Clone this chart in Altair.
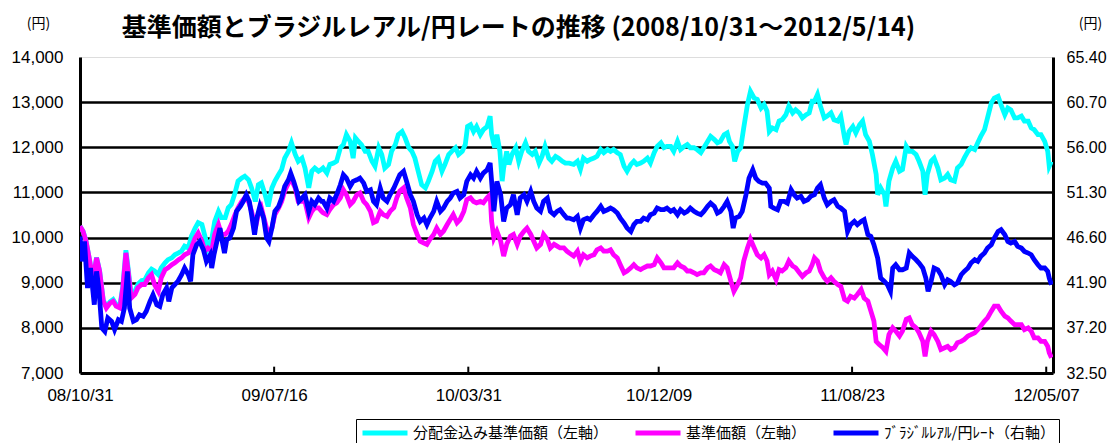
import altair as alt
import pandas as pd

START = "2008-10-31"
SERIES = ["分配金込み基準価額（左軸）", "基準価額（左軸）", "ﾌﾞﾗｼﾞﾙﾚｱﾙ/円ﾚｰﾄ（右軸）"]
COLORS = ["#00FFFF", "#FF00FF", "#0000FF"]
TICK_DATES = ["2008-10-31", "2009-07-16", "2010-03-31", "2010-12-09", "2011-08-23", "2012-05-07"]
LEFT_TICKS = [7000, 8000, 9000, 10000, 11000, 12000, 13000, 14000]
RIGHT_TICKS = [32.5, 37.2, 41.9, 46.6, 51.3, 56.0, 60.7, 65.4]

# (days since 2008-10-31, value)
nav_dist = [
    (0,10250),(4,10140),(8,9920),(13,9480),(17,9030),(22,9560),(26,9270),(31,8610),(35,8470),(40,8580),
    (44,8630),(48,8520),(53,8490),(57,8940),(61,9720),(64,9320),(68,8730),(73,8810),(77,8970),(82,9050),
    (86,9060),(91,9220),(95,9300),(99,9260),(104,9180),(108,9330),(113,9440),(117,9510),(122,9550),(126,9620),
    (131,9660),(135,9700),(139,9810),(144,9770),(148,10030),(153,10210),(157,10330),(162,10290),(166,10030),(170,9770),
    (175,9960),(179,10360),(184,10580),(188,10440),(193,10440),(197,10660),(201,10730),(206,10990),(210,11250),(215,11320),
    (219,11360),(224,11280),(228,11100),(233,10800),(237,11170),(241,11210),(246,10950),(250,10690),(255,11100),(259,11250),
    (264,11400),(268,11510),(272,11760),(277,11910),(281,12100),(286,11840),(290,11690),(295,11760),(299,11540),(304,11100),
    (308,11470),(312,11540),(317,11470),(321,11510),
    (323,11540),(328,11430),(332,11620),(337,11650),(341,11690),(346,11990),(350,12060),(354,12280),(359,12130),(363,11760),
    (366,12210),(370,12130),(374,12060),(379,11910),(383,11910),(388,11690),(392,11580),(397,11990),(401,11840),(405,11540),
    (410,11620),(414,11910),(419,12060),(423,12280),(428,12350),(432,12210),(437,11990),(441,11910),(445,11760),(450,11430),
    (454,11170),(459,11100),(463,11250),(468,11470),(472,11690),(476,11760),(481,11470),(485,11620),(490,11840),(494,11910),
    (499,11990),(503,11840),(508,11910),(512,12060),(515,12460),(519,12500),(523,12350),(527,12460),(532,12280),(536,12390),
    (541,12460),(545,12690),(547,12280),(551,11990),(554,12280),(558,11910),(561,11250),(563,11540),(567,11910),(570,11620),
    (574,11840),(579,11990),(583,11690),(587,11910),(592,12100),(596,11910),(601,11840),(605,11910),(610,11650),(614,11800),
    (618,12020),(623,11760),(627,11690),(632,11800),(636,11760),(641,11690),(645,11650),
    (650,11650),(656,11620),(661,11690),(665,11510),(669,11760),(674,11690),(678,11730),(683,11760),(687,11800),(692,11950),
    (696,11880),(701,11950),(705,11910),(709,11950),(714,11880),(718,11840),(723,11580),(727,11470),(732,11620),(736,11690),
    (740,11620),(745,11650),(749,11690),(754,11760),(758,11650),(763,11880),(767,12020),(772,12100),(776,11990),(780,12020),
    (785,12020),(789,11910),(794,12130),(798,11950),(803,12020),(807,12060),(811,11990),(816,11990),(820,11950),(825,11880),
    (829,11990),(834,12130),(838,12240),(843,12170),(847,12100),(851,12130),(856,12280),(860,12320),(863,12130),(867,12020),
    (870,11690),(874,11910),(878,11990),(882,12430),(887,12950),(891,13240),(896,13090),(900,13060),(905,12870),(909,12950),
    (913,12800),(916,12350),(920,12430),(925,12390),(929,12580),(933,12610),(938,12720),(942,12910),(947,12760),(951,12830),
    (956,12760),(960,12650),(965,12720),(969,12760),(973,13020),
    (976,13020),(980,13170),(984,12910),(989,12650),(993,12690),(998,12760),(1002,12610),(1007,12580),(1011,12690),(1016,12210),
    (1018,12060),(1022,12350),(1027,12460),(1031,12320),(1036,12500),(1040,12580),(1044,12280),(1049,12130),(1053,11840),(1058,11400),
    (1060,10950),(1064,11100),(1069,10950),(1071,10690),(1075,11250),(1080,11540),(1084,11690),(1089,11470),(1093,11510),(1098,12020),
    (1102,11910),(1106,11910),(1111,11840),(1115,11690),(1120,11470),(1123,10950),(1126,11400),(1131,11690),(1135,11760),(1140,11540),
    (1144,11280),(1149,11320),(1153,11400),(1157,11280),(1162,11250),(1166,11540),(1171,11620),(1175,11760),(1180,11910),(1184,11990),
    (1189,11950),(1193,12100),(1197,12240),(1202,12390),(1206,12650),(1211,12980),(1215,13090),(1220,13130),(1224,12940),(1229,12720),
    (1233,12870),(1237,12830),(1242,12650),(1246,12650),(1251,12690),(1255,12580),(1260,12580),(1264,12430),(1268,12390),(1273,12280),
    (1277,12280),(1282,12130),(1286,11910),(1288,11580),(1291,11690),
]

nav = [
    (0,10250),(4,10140),(8,9920),(13,9480),(17,9030),(22,9550),(26,9260),(31,8590),(35,8440),(40,8550),
    (44,8590),(48,8480),(53,8440),(57,8890),(61,9660),(64,9260),(68,8660),(73,8740),(77,8890),(82,8960),
    (86,8960),(91,9110),(95,9180),(99,8960),(104,8810),(108,9110),(113,9290),(117,9330),(122,9400),(126,9440),
    (131,9510),(135,9550),(139,9620),(144,9660),(148,9770),(153,9990),(157,10100),(162,9920),(166,9700),(170,9770),
    (175,9700),(179,10070),(184,10290),(188,10070),(193,10070),(197,10140),(201,10290),(206,10510),(210,10660),(215,10800),
    (219,10880),(224,10800),(228,10580),(233,10210),(237,10510),(241,10660),(246,10330),(250,10070),(255,10210),(259,10510),
    (264,10660),(268,10800),(272,11030),(277,11210),(281,11280),(286,11100),(290,10800),(295,10800),(299,10800),(304,10440),
    (308,10580),(312,10660),(317,10660),(321,10580),
    (323,10550),(328,10510),(332,10620),(337,10730),(341,10770),(346,10880),(350,11060),(354,10950),(359,10730),(363,10800),
    (368,10950),(372,10990),(377,10800),(381,10730),(386,10580),(390,10330),(394,10360),(399,10580),(403,10510),(408,10470),
    (412,10580),(417,10660),(421,10880),(425,11030),(430,11100),(434,10880),(439,10660),(443,10290),(448,10070),(452,9920),
    (457,9880),(461,9850),(465,9960),(470,10070),(474,10210),(479,10070),(483,10140),(488,10290),(492,10400),(496,10510),
    (501,10330),(505,10400),(510,10580),(514,10840),(519,10880),(523,10800),(527,10770),(532,10800),(536,10770),(541,10880),
    (545,10950),(547,10360),(550,9990),(554,10140),(559,9920),(563,9590),(567,9850),(572,10030),(576,10070),(581,9850),
    (585,10030),(590,10140),(594,10210),(599,10070),(603,9920),(607,9770),(612,9850),(616,10070),(621,9960),(625,9770),
    (630,9850),(634,9810),(638,9770),(643,9770),(647,9700),
    (650,9660),(656,9590),(661,9700),(665,9480),(669,9620),(674,9550),(678,9590),(683,9620),(687,9730),(692,9770),
    (696,9700),(701,9700),(705,9730),(709,9620),(714,9550),(718,9400),(723,9220),(727,9260),(732,9330),(736,9400),
    (740,9330),(745,9290),(749,9330),(754,9370),(758,9370),(763,9400),(767,9550),(772,9440),(776,9330),(780,9330),
    (785,9330),(789,9330),(794,9440),(798,9370),(803,9330),(807,9260),(811,9260),(816,9220),(820,9180),(825,9220),
    (829,9220),(834,9330),(838,9370),(843,9290),(847,9260),(851,9220),(856,9400),(860,9330),(865,9030),(869,8810),
    (874,8960),(878,9110),(882,9480),(887,9770),(891,9960),(896,9770),(900,9620),(905,9550),(909,9620),(913,9480),
    (916,9180),(920,9260),(925,9070),(929,9290),(933,9260),(938,9330),(942,9480),(947,9370),(951,9330),(956,9220),
    (960,9140),(965,9220),(969,9260),(973,9400),
    (976,9550),(980,9480),(984,9260),(989,9110),(993,9030),(998,9110),(1002,9030),(1007,8960),(1011,8920),(1016,8630),
    (1020,8590),(1024,8700),(1029,8660),(1033,8740),(1038,8850),(1042,8660),(1047,8590),(1051,8370),(1055,8150),(1058,7700),
    (1062,7630),(1067,7560),(1071,7480),(1075,7850),(1080,8000),(1084,7930),(1089,7820),(1093,7930),(1098,8190),(1102,8220),
    (1106,8070),(1111,8000),(1115,7890),(1120,7700),(1123,7370),(1126,7700),(1131,7930),(1135,7850),(1140,7700),(1144,7520),
    (1149,7560),(1153,7590),(1157,7520),(1162,7560),(1166,7670),(1171,7700),(1175,7740),(1180,7820),(1184,7850),(1189,7890),
    (1193,7960),(1197,8040),(1202,8150),(1206,8220),(1211,8370),(1215,8480),(1220,8480),(1224,8370),(1229,8260),(1233,8220),
    (1237,8150),(1242,8070),(1246,8070),(1251,8070),(1255,7960),(1260,8000),(1264,7930),(1268,7780),(1273,7780),(1277,7700),
    (1282,7700),(1286,7590),(1288,7450),(1291,7340),
]

brl_jpy = [
    (0,46.72),(3,44.12),(6,46.20),(10,41.35),(14,43.43),(19,39.61),(22,43.08),(25,41.35),(29,37.19),(33,36.84),
    (37,38.22),(42,37.88),(46,37.01),(51,38.05),(55,37.88),(59,39.27),(63,43.08),(66,39.27),(71,37.88),(75,38.05),
    (79,38.57),(84,38.40),(88,38.92),(93,39.96),(97,40.65),(102,39.61),(106,39.44),(110,40.65),(115,41.35),(118,39.96),
    (122,41.35),(126,41.69),(130,42.04),(135,42.73),(139,43.43),(144,42.73),(147,42.04),(150,44.81),(155,45.86),(159,46.20),
    (164,45.34),(168,44.12),(173,44.81),(175,43.43),(178,44.81),(183,46.55),(186,47.59),(189,46.20),(192,44.99),(195,46.38),
    (199,46.55),(204,47.59),(208,49.33),(213,49.85),(217,50.37),(221,51.06),(225,50.37),(228,48.98),(232,46.90),(235,48.63),
    (239,49.85),(244,48.63),(248,46.55),(251,46.20),(255,47.59),(259,49.33),(264,49.85),(268,50.71),(272,51.93),(277,52.62),
    (280,53.31),(284,52.45),(288,51.41),(291,50.37),(295,50.71),(299,51.06),(304,49.33),(308,50.37),(312,50.02),(317,50.71),
    (321,50.37),
    (323,50.37),(328,49.67),(332,50.71),(337,50.37),(341,51.06),(346,52.10),(350,53.14),(354,52.79),(359,51.93),(363,52.45),
    (368,52.62),(372,52.79),(377,52.27),(381,51.41),(386,51.58),(390,50.37),(394,50.02),(399,51.75),(403,50.71),(408,50.37),
    (412,51.06),(417,51.75),(421,52.45),(425,53.14),(430,53.49),(434,52.45),(439,51.06),(443,50.37),(448,48.98),(452,48.28),
    (457,48.63),(461,47.94),(465,48.63),(470,49.33),(474,50.37),(479,49.33),(483,49.67),(488,50.37),(492,50.71),(496,51.23),
    (501,51.41),(505,50.71),(510,51.06),(514,52.45),(519,53.14),(523,52.79),(527,53.49),(532,52.79),(536,53.31),(541,53.66),
    (545,54.36),(547,52.45),(550,49.33),(554,52.45),(559,51.06),(563,48.28),(567,49.67),(572,50.02),(576,51.06),(581,48.98),
    (585,50.71),(590,51.06),(594,50.37),(599,51.41),(603,50.37),(607,49.67),(612,49.33),(616,50.37),(621,50.71),(625,49.33),
    (630,48.98),(634,49.33),(638,49.50),(643,48.98),(647,48.63),
    (650,48.63),(656,48.46),(661,48.80),(665,47.59),(669,48.46),(674,48.63),(678,48.46),(683,48.98),(687,49.33),(692,49.85),
    (696,49.33),(701,49.50),(705,49.67),(709,49.50),(714,49.15),(718,48.63),(723,48.11),(727,47.59),(732,47.24),(736,47.94),
    (740,48.28),(745,48.28),(749,48.63),(754,48.46),(758,48.98),(763,49.15),(767,49.67),(772,49.50),(776,49.50),(780,49.67),
    (785,49.33),(789,49.50),(794,48.98),(798,49.50),(803,49.15),(807,49.33),(811,49.67),(816,49.33),(820,49.15),(825,48.98),
    (829,49.33),(834,49.85),(838,50.19),(843,49.85),(847,49.15),(851,49.33),(856,49.85),(860,50.37),(865,49.33),(868,47.59),
    (871,48.63),(876,48.80),(880,49.33),(885,51.06),(889,52.79),(894,53.66),(898,52.79),(902,52.45),(907,52.27),(911,52.27),
    (916,51.75),(918,49.85),(922,49.67),(927,49.50),(931,50.37),(936,50.37),(940,50.19),(945,51.58),(949,51.06),(953,50.71),
    (958,50.89),(962,50.37),(967,50.54),(971,50.89),
    (976,51.06),(980,51.75),(984,52.10),(989,50.71),(993,50.02),(998,50.37),(1002,50.54),(1007,49.85),(1011,49.67),(1016,49.33),
    (1020,47.24),(1024,47.94),(1029,48.28),(1033,47.94),(1038,48.28),(1042,48.46),(1047,46.90),(1051,46.72),(1055,45.86),(1060,44.47),
    (1064,42.39),(1069,42.04),(1073,41.69),(1077,41.00),(1080,43.43),(1084,43.77),(1089,43.25),(1093,43.25),(1098,43.43),(1102,44.99),
    (1106,44.64),(1111,44.29),(1115,43.95),(1120,43.43),(1124,42.39),(1127,41.00),(1131,42.04),(1135,43.43),(1140,43.25),(1144,42.73),
    (1149,41.69),(1153,42.21),(1157,42.04),(1162,41.69),(1166,41.87),(1171,42.73),(1175,43.08),(1180,43.43),(1184,43.95),(1189,44.29),
    (1193,44.12),(1197,44.64),(1202,44.99),(1206,45.51),(1211,45.86),(1215,46.55),(1220,47.24),(1224,47.42),(1229,46.90),(1233,46.20),
    (1237,46.03),(1242,46.20),(1246,45.69),(1251,45.51),(1255,45.16),(1260,44.99),(1264,44.81),(1268,44.29),(1273,43.77),(1277,43.43),
    (1282,43.43),(1286,43.08),(1288,42.39),(1291,41.69),
]


def frame(pairs, name, col):
    df = pd.DataFrame(pairs, columns=["day", col])
    df["date"] = pd.Timestamp(START) + pd.to_timedelta(df["day"], unit="D")
    df["series"] = name
    return df[["date", col, "series"]]


df_dist = frame(nav_dist, SERIES[0], "value")
df_nav = frame(nav, SERIES[1], "value")
df_brl = frame(brl_jpy, SERIES[2], "rate")
tick_df = pd.DataFrame({"date": pd.to_datetime(TICK_DATES[1:])})

tick_ts = [pd.Timestamp(t) for t in TICK_DATES]
tick_vals = [alt.DateTime(year=t.year, month=t.month, date=t.day) for t in tick_ts]

LABEL_FONT = "Liberation Sans"
CJK = "Noto Sans CJK JP"

x_enc = alt.X(
    "date:T",
    scale=alt.Scale(domain=[alt.DateTime(year=2008, month=10, date=31),
                            alt.DateTime(year=2012, month=5, date=16)]),
    axis=alt.Axis(values=tick_vals, format="%y/%m/%d", labelFlush=False,
                  labelOverlap=False, ticks=False, grid=False,
                  domainColor="black", domainWidth=3, labelPadding=14,
                  labelFontSize=17, labelFont=LABEL_FONT, labelColor="black",
                  title=None),
)

left_scale = alt.Scale(domain=[7000, 14000], nice=False, zero=False)
left_axis = alt.Axis(values=LEFT_TICKS, format=",.0f", title="(円)", titleAngle=0,
                     titleX=-42, titleY=-34, titleAlign="center", titleBaseline="middle",
                     titleFont=CJK, titleFontSize=14, titleFontWeight="normal", titleColor="black",
                     grid=True, gridColor="black", gridWidth=2.5,
                     gridOpacity={"condition": {"test": "datum.value >= 14000 || datum.value <= 7000", "value": 0}, "value": 1},
                     domainColor="black", domainWidth=3, ticks=False, labelPadding=17,
                     labelFontSize=17, labelFont=LABEL_FONT, labelColor="black")

right_scale = alt.Scale(domain=[32.5, 65.4], nice=False, zero=False)
right_axis = alt.Axis(orient="right", values=RIGHT_TICKS, format=".2f", title="(円)", titleAngle=0,
                      titleX=37, titleY=-34, titleAlign="center", titleBaseline="middle",
                      titleFont=CJK, titleFontSize=14, titleFontWeight="normal", titleColor="black",
                      grid=False, domainColor="black", domainWidth=3, ticks=False, labelPadding=13,
                      labelFontSize=16, labelFont=LABEL_FONT, labelColor="black")

legend = alt.Legend(title=None, orient="none", legendX=276, legendY=362, direction="horizontal",
                    symbolType="M-1,0L5,0", symbolSize=225, symbolStrokeWidth=5,
                    labelOffset=33, labelFont=CJK, labelFontSize=15, labelColor="black",
                    labelLimit=400, columnPadding=16, padding=4,
                    strokeColor="black", fillColor="white")

color_enc = alt.Color("series:N", scale=alt.Scale(domain=SERIES, range=COLORS), legend=legend)

cyan = alt.Chart(df_dist).mark_line(strokeWidth=4.8, clip=True).encode(
    x=x_enc, y=alt.Y("value:Q", scale=left_scale, axis=left_axis), color=color_enc)
magenta = alt.Chart(df_nav).mark_line(strokeWidth=4.8, clip=True).encode(
    x=x_enc, y=alt.Y("value:Q", scale=left_scale, axis=left_axis), color=color_enc)
ticks = alt.Chart(tick_df).mark_rule(color="black", strokeWidth=2).encode(
    x=x_enc, y=alt.YDatum(7000, scale=left_scale, axis=left_axis), y2=alt.Y2Datum(7140))
blue = alt.Chart(df_brl).mark_line(strokeWidth=4.8, clip=True).encode(
    x=x_enc, y=alt.Y("rate:Q", scale=right_scale, axis=right_axis), color=color_enc)

left = alt.layer(cyan, magenta, ticks)
chart = alt.layer(left, blue).resolve_scale(y="independent").properties(
    width=973, height=316,
    autosize=alt.AutoSizeParams(type="none"),
    padding={"left": 72, "top": 49, "right": 55, "bottom": 70},
    title=alt.TitleParams("基準価額とブラジルレアル/円レートの推移 (2008/10/31～2012/5/14)",
                          font=CJK, fontSize=25, fontWeight="bold", color="black",
                          anchor="middle", dx=-48, dy=25, offset=0),
).configure_view(fill="#FFFFCC", stroke="#808080", strokeWidth=3
).configure_legend(strokeWidth=3
).configure(background="white")

chart.save("out.html", embed_options={"renderer": "svg", "actions": False})
